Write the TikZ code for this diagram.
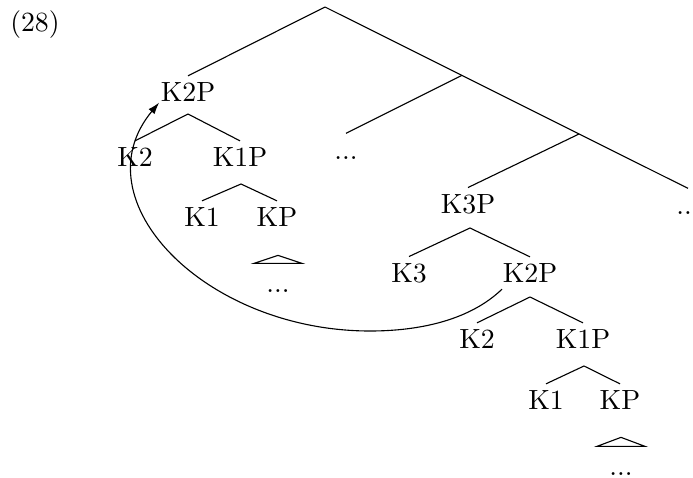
\documentclass[tikz,border=0pt]{standalone}
\usetikzlibrary{arrows.meta,calc}
\begin{document}
\begin{tikzpicture}[x=0.36pt,y=-0.36pt,
  lab/.style={inner sep=2.2pt},
  dots/.style={inner sep=2.2pt,text height=6.83pt,text depth=0pt,anchor=base},
  tri/.style={draw},
  mv/.style={-{Latex[length=4.2pt,width=2.8pt]}}]
\useasboundingbox (0,0) rectangle (693,477);
\node[inner sep=0pt] (ex) at (35,25) {(28)};
% top-level spine
\coordinate (root) at (325,7);
\node[lab] (k2pa) at (188,92) {K2P};
\node[dots] (mdots) at (346,159) {...};
\node[lab] (k3p) at (468,204) {K3P};
\node[dots] (rdots) at (688,214) {...};
\draw (root) -- (k2pa.north);
\draw (root) -- (rdots.north);
\coordinate (j1) at ($(root)!0.377!(rdots.north)$);
\coordinate (j2) at ($(root)!0.70!(rdots.north)$);
\draw (j1) -- (mdots.north);
\draw (j2) -- (k3p.north);
% upper K2P subtree
\coordinate (a1) at (188,114);
\node[lab] (k2a) at (135,157) {K2};
\node[lab] (k1pa) at (240,157) {K1P};
\draw (k2a.north) -- (a1) -- (k1pa.north);
\coordinate (a2) at (241,184);
\node[lab] (k1a) at (202,217) {K1};
\node[lab] (kpa) at (277,217) {KP};
\draw (k1a.north) -- (a2) -- (kpa.north);
\node[dots] (ddots1) at (278,292) {...};
\draw[tri] ([yshift=1.08pt]ddots1.north) ++(-24,0) -- ++(24,-8) -- ++(24,8) -- cycle;
% K3P subtree
\coordinate (a3) at (470,228);
\node[lab] (k3) at (409,273) {K3};
\node[lab] (k2pb) at (530,273) {K2P};
\draw (k3.north) -- (a3) -- (k2pb.north);
\coordinate (a4) at (530,297);
\node[lab] (k2b) at (477,339) {K2};
\node[lab] (k1pb) at (583,339) {K1P};
\draw (k2b.north) -- (a4) -- (k1pb.north);
\coordinate (a5) at (584,366);
\node[lab] (k1b) at (546,400) {K1};
\node[lab] (kpb) at (620,400) {KP};
\draw (k1b.north) -- (a5) -- (kpb.north);
\node[dots] (ddots2) at (621,475) {...};
\draw[tri] ([yshift=1.08pt]ddots2.north) ++(-24,0) -- ++(24,-9) -- ++(24,9) -- cycle;
% movement arrow
\coordinate (cbot) at (370,331);
\draw[mv] (k2pb.210) .. controls (470,320) and (420,331) .. (cbot)
  .. controls (205,331) and (78,200) .. ([xshift=1.8pt,yshift=2pt]k2pa.south west);
\end{tikzpicture}
\end{document}
